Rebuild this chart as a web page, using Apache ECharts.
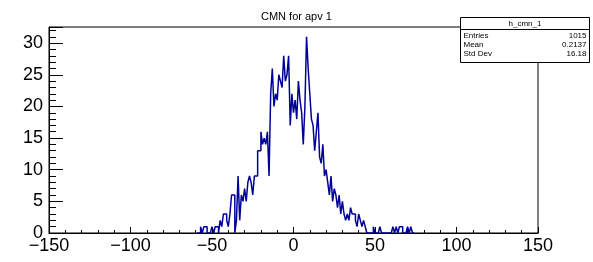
<!DOCTYPE html>
<html>
<head>
<meta charset="utf-8">
<script src="https://cdn.jsdelivr.net/npm/echarts@6/dist/echarts.min.js"></script>
<style>
  html, body { margin: 0; padding: 0; background: #fff; }
  #chart { width: 593px; height: 262px; }
</style>
</head>
<body>
<div id="chart"></div>
<script>
const title = "CMN for apv 1";
const histName = "h_cmn_1";
const statLabels = ["Entries", "Mean", "Std Dev"];
const statValues = ["1015", "0.2137", "16.18"];
const xTicks = [-150, -100, -50, 0, 50, 100, 150];
const yTicks = [0, 5, 10, 15, 20, 25, 30];
const yMax = 32.55;

// bins of width 1, first low edge at firstEdge
const firstEdge = -59;
const binWidth = 1;
const counts = [
  0, 0, 1, 0, 1, 1, 0, 0, 0, 1,      // -59 .. -50
  0, 1, 1, 0, 2, 1, 3, 3, 2, 1,      // -49 .. -40
  3, 6, 6, 0, 2, 9, 2, 6, 5, 7,      // -39 .. -30
  5, 8, 9, 8, 6, 9, 9, 13, 13, 16,   // -29 .. -20
  14, 15, 14, 16, 9, 22, 26, 20, 22, 21, // -19 .. -10
  25, 24, 23, 28, 24, 25, 28, 17, 22, 19, // -9 .. 0
  21, 18, 24, 21, 19, 14, 20, 31, 26, 22, // 1 .. 10
  18, 17, 13, 16, 19, 12, 11, 14, 9, 10,  // 11 .. 20
  8, 6, 9, 5, 7, 6, 4, 6, 3, 5,      // 21 .. 30
  3, 2, 3, 2, 4, 3, 3, 2, 1, 3,      // 31 .. 40
  2, 1, 2, 1, 0, 0, 0, 0, 1, 0,      // 41 .. 50
  0, 0, 1, 0, 0, 0, 0, 0, 0, 0,      // 51 .. 60
  1, 0, 1, 0, 1, 1, 0, 0, 0, 1,      // 61 .. 70
  0, 1, 0                            // 71 .. 73
];

// step points: one per bin low edge, plus the closing edge
const stepData = counts.map((c, i) => [firstEdge + i * binWidth, c]);
stepData.push([firstEdge + counts.length * binWidth, 0]);

const font = "Liberation Sans";
const minus = v => String(v).replace("-", "\u2212");

const chart = echarts.init(document.getElementById("chart"));

chart.setOption({
  animation: false,
  backgroundColor: "#fff",
  title: {
    text: title,
    left: 256,
    top: 6,
    textStyle: { fontFamily: font, fontSize: 11, fontWeight: "normal", color: "#000" }
  },
  grid: {
    left: 49, right: 55, top: 27, bottom: 29,
    show: true, borderColor: "#000", borderWidth: 1, backgroundColor: "transparent"
  },
  xAxis: {
    type: "value",
    min: xTicks[0],
    max: xTicks[xTicks.length - 1],
    interval: xTicks[1] - xTicks[0],
    axisLine: { show: true, onZero: false, lineStyle: { color: "#000", width: 1 } },
    axisTick: { show: true, inside: true, length: 6, lineStyle: { color: "#000" } },
    minorTick: { show: true, splitNumber: 5, length: 3, lineStyle: { color: "#000" } },
    splitLine: { show: false },
    axisLabel: {
      fontFamily: font, fontSize: 18, color: "#000", margin: 4,
      formatter: minus
    }
  },
  yAxis: {
    type: "value",
    min: 0,
    max: yMax,
    interval: yTicks[1] - yTicks[0],
    axisLine: { show: true, onZero: false, lineStyle: { color: "#000", width: 1 } },
    axisTick: { show: true, inside: true, length: 14, lineStyle: { color: "#000" } },
    minorTick: { show: true, splitNumber: 5, length: 7, lineStyle: { color: "#000" } },
    splitLine: { show: false },
    axisLabel: {
      fontFamily: font, fontSize: 18, color: "#000", margin: 6,
      formatter: v => (yTicks.includes(v) ? String(v) : "")
    }
  },
  series: [
    {
      name: histName,
      type: "line",
      step: "end",
      data: stepData,
      symbol: "none",
      lineStyle: { color: "#000099", width: 1.5 },
      z: 3
    }
  ],
  graphic: [
    {
      type: "group",
      left: 458, top: 17,
      children: [
        { type: "rect", shape: { x: 0, y: 0, width: 129, height: 45 },
          style: { fill: "#fff", stroke: "#000", lineWidth: 1 } },
        { type: "line", shape: { x1: 0, y1: 12, x2: 129, y2: 12 },
          style: { stroke: "#000", lineWidth: 1 } },
        { type: "text", x: 64.5, y: 6.5,
          style: { text: histName, fontFamily: font, fontSize: 8, fill: "#000",
                   align: "center", verticalAlign: "middle" } },
        ...statLabels.map((s, i) => ({
          type: "text", x: 3, y: 18 + i * 9,
          style: { text: s, fontFamily: font, fontSize: 8, fill: "#000",
                   align: "left", verticalAlign: "middle" }
        })),
        ...statValues.map((s, i) => ({
          type: "text", x: 126, y: 18 + i * 9,
          style: { text: s, fontFamily: font, fontSize: 8, fill: "#000",
                   align: "right", verticalAlign: "middle" }
        }))
      ]
    }
  ]
});
</script>
</body>
</html>
